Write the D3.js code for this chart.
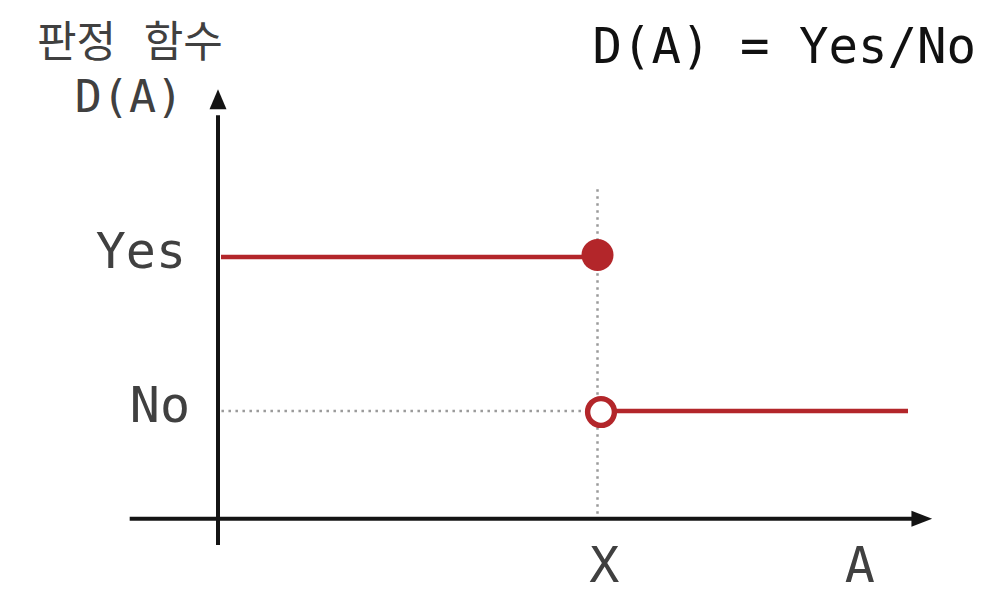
<!DOCTYPE html>
<html>
<head>
<meta charset="utf-8">
<script src="https://cdn.jsdelivr.net/npm/d3@7"></script>
<style>
  html, body { margin: 0; padding: 0; background: #fff; }
  svg { display: block; }
</style>
</head>
<body>
<svg id="chart" width="1006" height="594"></svg>
<script>
// ---- data ----
const levels = ["No", "Yes"];               // categorical output values
const levelValues = [0, 1];                 // numeric positions of levels
const threshold = 5.5;                      // X
const xEnd = 10;                            // end of domain drawn
const segments = [
  { from: 0, to: threshold, level: "Yes" },
  { from: threshold, to: xEnd, level: "No" }
];
const points = [
  { x: threshold, level: "Yes", closed: true },
  { x: threshold, level: "No", closed: false }
];
const xTickLabels = ["X", "A"];
const xTickValues = [5.6, 9.3];
const yAxisTitle = ["판정 함수", "D(A)"];
const headline = "D(A) = Yes/No";

// ---- scales ----
const svg = d3.select("#chart");
const x = d3.scaleLinear().domain([0, xEnd]).range([218, 908]);
const yNum = d3.scaleLinear().domain([0, 1]).range([411, 257]);
const y = lvl => yNum(levelValues[levels.indexOf(lvl)]);

const red = "#b3262a";
const axisColor = "#141414";
const labelColor = "#404040";
const mono = "'DejaVu Sans Mono', 'Liberation Mono', monospace";

// ---- guide lines (dotted) ----
svg.append("line")
  .attr("x1", x(threshold)).attr("x2", x(threshold))
  .attr("y1", yNum(1.44)).attr("y2", yNum(-0.69))
  .attr("stroke", "#9a9a9a").attr("stroke-width", 2.5)
  .attr("stroke-dasharray", "2.5,4.5");
svg.append("line")
  .attr("x1", x(0.05)).attr("x2", x(threshold))
  .attr("y1", y("No")).attr("y2", y("No"))
  .attr("stroke", "#9a9a9a").attr("stroke-width", 2.5)
  .attr("stroke-dasharray", "2.5,4.5");

// ---- axes ----
const axisG = svg.append("g");
// x axis
const xAxisY = yNum(-0.7);
axisG.append("line")
  .attr("x1", x(-1.28)).attr("x2", x(10.1))
  .attr("y1", xAxisY).attr("y2", xAxisY)
  .attr("stroke", axisColor).attr("stroke-width", 4);
axisG.append("path")
  .attr("d", d3.line()([[x(10.35), xAxisY], [x(10.05), xAxisY - 8], [x(10.05), xAxisY + 8]]) + "Z")
  .attr("fill", axisColor);
// y axis
const yAxisX = x(0);
axisG.append("line")
  .attr("x1", yAxisX).attr("x2", yAxisX)
  .attr("y1", yNum(-0.87)).attr("y2", yNum(1.92))
  .attr("stroke", axisColor).attr("stroke-width", 4);
axisG.append("path")
  .attr("d", d3.line()([[yAxisX, yNum(2.09)], [yAxisX - 8.5, yNum(1.96)], [yAxisX + 8.5, yNum(1.96)]]) + "Z")
  .attr("fill", axisColor);

// ---- step segments ----
svg.selectAll("line.seg").data(segments).enter().append("line")
  .attr("class", "seg")
  .attr("x1", d => x(d.from) + (d.from === 0 ? 3 : 0))
  .attr("x2", d => x(d.to))
  .attr("y1", d => y(d.level)).attr("y2", d => y(d.level))
  .attr("stroke", red).attr("stroke-width", 4.5);

// ---- end points ----
svg.selectAll("circle.pt").data(points).enter().append("circle")
  .attr("class", "pt")
  .attr("cx", d => x(d.x) + (d.closed ? 0 : 3.5))
  .attr("cy", d => y(d.level) - (d.closed ? 2 : -1))
  .attr("r", d => d.closed ? 16 : 13.4)
  .attr("fill", d => d.closed ? red : "#fff")
  .attr("stroke", red)
  .attr("stroke-width", d => d.closed ? 0 : 5.4);

// ---- y level labels ----
svg.selectAll("text.ylab").data(levels).enter().append("text")
  .attr("class", "ylab")
  .attr("x", d => d === "Yes" ? 186 : 190)
  .attr("y", d => y(d) + 11)
  .attr("text-anchor", "end")
  .attr("font-family", mono)
  .attr("font-size", 50)
  .attr("fill", labelColor)
  .text(d => d);

// ---- x tick labels ----
svg.selectAll("text.xlab").data(xTickLabels).enter().append("text")
  .attr("class", "xlab")
  .attr("x", (d, i) => x(xTickValues[i]))
  .attr("y", 582)
  .attr("text-anchor", "middle")
  .attr("font-family", mono)
  .attr("font-size", 50)
  .attr("fill", labelColor)
  .text(d => d);

// ---- y axis title ----
svg.append("text")
  .attr("x", 130).attr("y", 57)
  .attr("text-anchor", "middle")
  .attr("font-family", "'Noto Sans CJK KR', sans-serif")
  .attr("font-size", 43)
  .attr("word-spacing", 18)
  .attr("fill", labelColor)
  .text(yAxisTitle[0]);
svg.append("text")
  .attr("x", 129).attr("y", 112)
  .attr("text-anchor", "middle")
  .attr("font-family", mono)
  .attr("font-size", 45)
  .attr("fill", labelColor)
  .text(yAxisTitle[1]);

// ---- headline ----
svg.append("text")
  .attr("x", 976).attr("y", 63)
  .attr("text-anchor", "end")
  .attr("font-family", mono)
  .attr("font-size", 49)
  .attr("fill", "#111")
  .text(headline);
</script>
</body>
</html>
